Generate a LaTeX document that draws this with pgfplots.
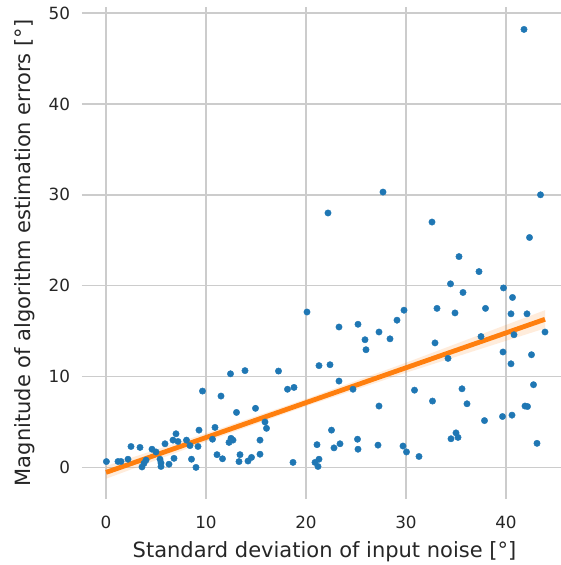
\documentclass[border=0pt]{standalone}
\usepackage{pgfplots}
\pgfplotsset{compat=1.18}
\usepackage{fontspec}
\setmainfont{DejaVu Sans}
\definecolor{sbblue}{HTML}{1F77B4}
\definecolor{sborange}{HTML}{FF7F0E}
\definecolor{gridgray}{HTML}{CCCCCC}
\definecolor{textgray}{HTML}{262626}
\begin{document}
\begin{tikzpicture}
\begin{axis}[
  scale only axis, width=485pt, height=492.5pt,
  xmin=-2.4, xmax=46.1, ymin=-3.5, ymax=50.7,
  axis line style={draw=none},
  major tick length=0pt,
  xtick={0,10,20,30,40}, ytick={0,10,20,30,40,50},
  grid=major, grid style={gridgray, line width=1.5pt},
  /pgf/number format/assume math mode=true,
  tick label style={font=\fontsize{16.8}{20}\selectfont, text=textgray},
  xticklabel style={yshift=-13pt},
  yticklabel style={xshift=-8.5pt},
  label style={font=\fontsize{21}{25}\selectfont, text=textgray},
  xlabel={Standard deviation of input noise [°]},
  ylabel={Magnitude of algorithm estimation errors [°]},
  xlabel style={at={(axis description cs:0.5,0)}, anchor=base, yshift=-58pt},
  ylabel style={at={(axis description cs:-0.1175,0.5)}, anchor=center},
]
% scatter of all runs
\addplot[only marks, mark=*, mark size=3.2pt, color=sbblue] coordinates {
(0.04,0.64)(1.2,0.65)(1.5,0.65)(2.2,0.9)(2.5,2.3)(3.4,2.2)(3.6,0.05)(3.8,0.45)
(4.0,0.8)(4.6,2.0)(5.0,1.7)(5.5,0.1)(5.5,0.5)(5.4,0.9)(5.9,2.6)(6.3,0.35)
(6.8,1.0)(6.7,3.0)(7.0,3.7)(7.2,2.85)(8.05,3.0)(8.55,0.9)(8.4,2.4)(9.2,2.3)
(9.0,0.0)(9.3,4.1)(9.65,8.4)
(10.65,3.1)(10.9,4.4)(11.1,1.4)(11.65,0.95)(11.5,7.85)(12.45,10.3)(13.05,6.05)
(12.3,2.75)(12.5,3.2)(12.7,3.0)(13.4,1.4)(13.3,0.64)(13.9,10.65)(14.2,0.7)
(14.55,1.1)(14.95,6.5)(15.9,5.0)(16.05,4.3)(15.4,3.0)(15.4,1.45)(17.25,10.6)
(18.15,8.6)(18.8,8.8)(18.7,0.55)
(20.1,17.1)(20.9,0.55)(21.3,0.9)(21.2,0.1)(21.1,2.5)(21.3,11.2)(22.2,28.0)
(22.4,11.3)(22.55,4.1)(22.8,2.15)(23.4,2.6)(23.3,15.45)(23.3,9.5)(24.7,8.6)
(25.2,15.75)(25.9,14.05)(26.0,12.95)(25.15,3.1)(25.2,2.0)(27.2,2.45)(27.3,6.75)
(27.3,14.9)(27.7,30.3)(28.4,14.15)(29.1,16.2)(29.8,17.3)(29.7,2.35)
(30.05,1.7)(30.85,8.5)(31.3,1.2)(32.6,27.0)(32.65,7.3)(32.9,13.7)(33.1,17.5)
(34.2,12.0)(34.45,20.2)(34.9,17.0)(35.0,3.8)(34.5,3.15)(35.2,3.3)(35.3,23.2)
(35.6,8.65)(35.7,19.25)(36.1,7.0)(37.3,21.55)(37.5,14.4)(37.85,5.15)(37.95,17.5)
(39.65,5.6)(39.7,12.7)(39.75,19.75)(40.5,16.9)(40.5,11.4)(40.6,5.75)(40.65,18.7)
(40.8,14.6)(41.8,48.2)(41.9,6.75)(42.15,6.7)(42.1,16.9)(42.35,25.3)(42.55,12.4)
(42.75,9.1)(43.1,2.65)(43.45,30.0)(43.9,14.9)
};
% confidence band of the fit
\addplot[draw=none, fill=sborange, fill opacity=0.15] coordinates {
(0,0.15)(10,3.74)(20,7.53)(30,11.52)(43.9,17.3)
(43.9,15.3)(30,10.42)(20,6.73)(10,2.84)(0,-1.25)
} -- cycle;
% linear fit
\addplot[sborange, line width=4.8pt] coordinates {(0,-0.55)(43.9,16.3)};
\coordinate (sw) at (rel axis cs:0,0);
\end{axis}
\pgfresetboundingbox
\path[use as bounding box] ([xshift=-82pt,yshift=-65.8pt]sw) rectangle ++(561pt,565pt);
\end{tikzpicture}
\end{document}
